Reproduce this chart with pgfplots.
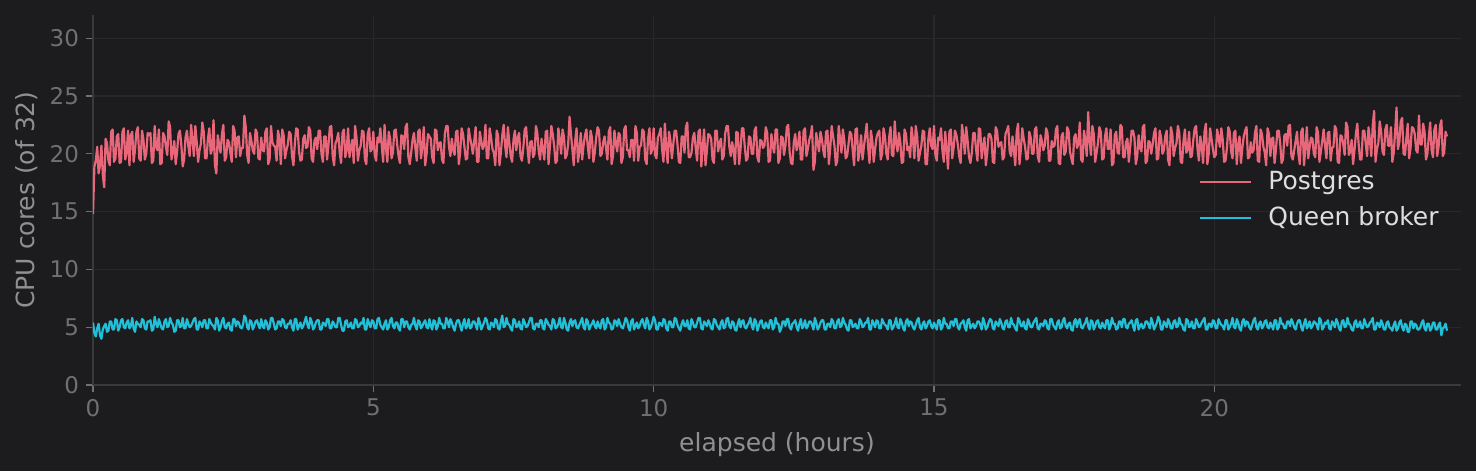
\documentclass[border=0pt]{standalone}
\usepackage{fontspec}
\setmainfont{DejaVu Sans}
\usepackage{pgfplots}
\pgfplotsset{compat=1.18}
\usepackage{pgfplotstable}
\usetikzlibrary{backgrounds}

\definecolor{bg}{HTML}{1C1C1E}
\definecolor{gridc}{HTML}{28282A}
\definecolor{spine}{HTML}{3A3A3C}
\definecolor{tickc}{HTML}{707072}
\definecolor{labc}{HTML}{909092}
\definecolor{legc}{HTML}{DEDEDE}
\definecolor{pgc}{HTML}{E8677A}
\definecolor{qbc}{HTML}{22C0D8}

% t (hours), Postgres cores, Queen broker cores
\pgfplotstableread[row sep=\\]{
t pg qb\\
0.000 14.8 5.4\\ 0.025 18.9 4.5\\ 0.050 19.4 4.2\\ 0.075 20.6 4.9\\ 0.100 18.3 5.3\\ 0.125 19.0 4.3\\ 0.150 20.7 4.0\\ 0.175 18.2 4.8\\ 0.200 17.1 5.1\\ 0.225 21.3 5.3\\ 0.250 20.9 4.6\\ 0.275 19.4 4.7\\ 0.300 19.0 5.5\\ 0.325 21.9 5.5\\ 0.350 22.1 4.8\\ 0.375 19.3 4.8\\ 0.400 19.6 5.7\\ 0.425 21.5 5.6\\ 0.450 21.7 4.7\\ 0.475 19.2 5.0\\ 0.500 19.3 5.6\\ 0.525 21.9 5.7\\ 0.550 22.2 5.0\\ 0.575 19.5 4.9\\ 0.600 20.1 5.4\\ 0.625 22.0 5.6\\ 0.650 19.0 4.9\\ 0.675 21.6 5.1\\ 0.700 21.9 5.8\\ 0.725 19.3 4.9\\ 0.750 20.4 4.6\\ 0.775 21.9 5.5\\ 0.800 22.3 5.3\\ 0.825 19.6 5.2\\ 0.850 19.4 5.0\\ 0.875 22.0 5.7\\ 0.900 21.2 5.6\\ 0.925 19.5 4.9\\ 0.950 20.0 4.8\\ 0.975 21.8 5.5\\
1.000 21.6 5.5\\ 1.025 21.8 5.6\\ 1.050 19.2 4.7\\ 1.075 19.4 4.8\\ 1.100 22.4 5.9\\ 1.125 20.6 5.3\\ 1.150 20.3 5.0\\ 1.175 22.1 5.7\\ 1.200 19.1 5.3\\ 1.225 19.2 4.9\\ 1.250 21.8 4.8\\ 1.275 21.5 5.5\\ 1.300 20.6 5.7\\ 1.325 19.9 5.0\\ 1.350 22.8 5.1\\ 1.375 22.3 5.8\\ 1.400 19.5 5.4\\ 1.425 20.2 5.2\\ 1.450 21.1 4.6\\ 1.475 19.1 4.7\\ 1.500 20.2 5.6\\ 1.525 21.7 5.6\\ 1.550 22.0 5.0\\ 1.575 20.8 5.1\\ 1.600 18.9 5.8\\ 1.625 19.5 4.9\\ 1.650 21.4 4.9\\ 1.675 22.0 5.7\\ 1.700 20.7 5.3\\ 1.725 19.8 5.0\\ 1.750 22.5 5.1\\ 1.775 21.2 5.4\\ 1.800 19.8 5.7\\ 1.825 22.4 5.8\\ 1.850 21.0 4.8\\ 1.875 19.3 4.8\\ 1.900 20.3 5.5\\ 1.925 20.9 5.3\\ 1.950 22.7 5.0\\ 1.975 21.9 5.6\\
2.000 19.6 5.6\\ 2.025 19.6 4.9\\ 2.050 21.3 4.9\\ 2.075 22.2 5.7\\ 2.100 20.0 5.4\\ 2.125 20.4 5.2\\ 2.150 22.9 5.1\\ 2.175 19.0 4.8\\ 2.200 18.3 5.8\\ 2.225 21.6 5.6\\ 2.250 20.8 4.7\\ 2.275 20.1 5.0\\ 2.300 21.7 5.5\\ 2.325 22.5 5.8\\ 2.350 19.4 5.0\\ 2.375 19.7 4.9\\ 2.400 21.2 5.3\\ 2.425 21.0 5.4\\ 2.450 20.1 4.8\\ 2.475 19.3 4.7\\ 2.500 22.4 5.7\\ 2.525 22.0 5.7\\ 2.550 19.7 5.1\\ 2.575 21.4 5.5\\ 2.600 21.5 5.4\\ 2.625 19.8 5.0\\ 2.650 20.5 4.9\\ 2.675 20.5 5.2\\ 2.700 23.3 6.0\\ 2.725 22.3 5.8\\ 2.750 19.9 5.0\\ 2.775 19.2 4.8\\ 2.800 21.8 5.6\\ 2.825 21.1 5.5\\ 2.850 20.3 4.8\\ 2.875 20.0 5.1\\ 2.900 22.1 5.5\\ 2.925 21.8 5.6\\ 2.950 19.6 5.2\\ 2.975 19.5 4.9\\
3.000 21.4 5.7\\ 3.025 20.3 5.1\\ 3.050 20.2 4.9\\ 3.075 21.9 5.6\\ 3.100 22.2 5.4\\ 3.125 19.1 4.8\\ 3.150 19.5 5.0\\ 3.175 22.4 5.8\\ 3.200 21.0 5.8\\ 3.225 20.7 5.3\\ 3.250 20.6 4.8\\ 3.275 19.4 4.9\\ 3.300 22.0 5.5\\ 3.325 21.3 5.5\\ 3.350 19.1 5.1\\ 3.375 22.1 5.7\\ 3.400 21.6 5.6\\ 3.425 19.6 5.0\\ 3.450 20.3 4.9\\ 3.475 20.8 5.3\\ 3.500 21.9 5.3\\ 3.525 21.7 5.6\\ 3.550 19.8 5.0\\ 3.575 19.0 4.7\\ 3.600 20.9 5.7\\ 3.625 22.2 5.7\\ 3.650 22.1 4.8\\ 3.675 20.2 5.1\\ 3.700 19.4 5.4\\ 3.725 19.5 4.9\\ 3.750 21.3 5.1\\ 3.775 21.6 5.5\\ 3.800 20.5 5.9\\ 3.825 20.6 5.2\\ 3.850 22.3 4.9\\ 3.875 22.0 5.8\\ 3.900 19.6 5.5\\ 3.925 19.3 4.8\\ 3.950 21.1 5.0\\ 3.975 21.4 5.4\\
4.000 20.4 5.6\\ 4.025 22.0 5.6\\ 4.050 22.0 4.8\\ 4.075 20.0 4.8\\ 4.100 19.3 5.4\\ 4.125 21.5 5.3\\ 4.150 21.5 5.1\\ 4.175 19.5 5.7\\ 4.200 20.8 5.7\\ 4.225 22.3 4.9\\ 4.250 22.4 4.9\\ 4.275 19.8 5.5\\ 4.300 19.0 5.3\\ 4.325 20.9 5.0\\ 4.350 21.2 5.0\\ 4.375 21.8 5.8\\ 4.400 20.1 5.8\\ 4.425 19.2 5.2\\ 4.450 21.8 4.7\\ 4.475 22.1 4.7\\ 4.500 19.7 5.5\\ 4.525 20.3 5.6\\ 4.550 22.2 5.0\\ 4.575 19.7 5.1\\ 4.600 20.6 5.4\\ 4.625 21.2 4.9\\ 4.650 19.2 4.9\\ 4.675 22.4 5.7\\ 4.700 21.4 5.6\\ 4.725 19.4 5.0\\ 4.750 20.3 5.1\\ 4.775 20.7 5.4\\ 4.800 22.0 5.3\\ 4.825 21.9 5.8\\ 4.850 19.5 4.8\\ 4.875 19.1 4.8\\ 4.900 21.7 5.7\\ 4.925 22.2 5.3\\ 4.950 20.2 5.0\\ 4.975 20.4 5.6\\
5.000 21.9 5.5\\ 5.025 19.9 4.9\\ 5.050 19.4 4.9\\ 5.075 21.4 5.7\\ 5.100 21.0 5.8\\ 5.125 22.2 5.2\\ 5.150 20.7 5.0\\ 5.175 19.3 4.8\\ 5.200 22.5 5.3\\ 5.225 20.5 5.6\\ 5.250 19.3 4.8\\ 5.275 21.9 5.0\\ 5.300 21.3 5.6\\ 5.325 19.6 5.8\\ 5.350 20.1 5.1\\ 5.375 22.0 4.9\\ 5.400 22.1 5.4\\ 5.425 20.8 5.4\\ 5.450 19.8 4.9\\ 5.475 19.2 4.7\\ 5.500 21.6 5.7\\ 5.525 21.5 5.7\\ 5.550 20.4 5.0\\ 5.575 22.3 5.5\\ 5.600 22.6 5.5\\ 5.625 19.7 5.0\\ 5.650 19.1 4.8\\ 5.675 20.1 5.2\\ 5.700 21.2 5.3\\ 5.725 21.8 5.8\\ 5.750 20.5 5.1\\ 5.775 19.4 4.8\\ 5.800 21.9 5.6\\ 5.825 22.1 5.5\\ 5.850 19.6 4.9\\ 5.875 20.6 5.1\\ 5.900 22.3 5.4\\ 5.925 19.0 5.6\\ 5.950 20.0 5.0\\ 5.975 21.7 4.9\\
6.000 21.5 5.7\\ 6.025 21.3 5.1\\ 6.050 19.7 4.8\\ 6.075 19.2 5.6\\ 6.100 22.1 5.5\\ 6.125 22.0 4.8\\ 6.150 20.3 5.1\\ 6.175 20.9 5.8\\ 6.200 21.0 5.3\\ 6.225 19.5 5.3\\ 6.250 19.2 4.9\\ 6.275 21.7 4.9\\ 6.300 22.4 5.8\\ 6.325 22.4 5.5\\ 6.350 20.6 5.0\\ 6.375 19.8 5.7\\ 6.400 21.3 5.4\\ 6.425 20.3 5.0\\ 6.450 19.9 4.7\\ 6.475 21.9 5.3\\ 6.500 22.0 5.6\\ 6.525 19.1 5.6\\ 6.550 20.2 5.1\\ 6.575 22.2 4.7\\ 6.600 21.7 5.3\\ 6.625 20.6 5.7\\ 6.650 19.5 4.9\\ 6.675 19.6 5.1\\ 6.700 22.2 5.7\\ 6.725 21.4 4.9\\ 6.750 20.8 5.0\\ 6.775 20.0 5.5\\ 6.800 21.1 5.5\\ 6.825 22.3 5.2\\ 6.850 19.3 4.8\\ 6.875 19.3 5.8\\ 6.900 21.9 5.4\\ 6.925 21.1 4.8\\ 6.950 20.4 5.1\\ 6.975 20.7 5.4\\
7.000 22.5 5.8\\ 7.025 19.6 5.6\\ 7.050 19.6 4.9\\ 7.075 22.2 4.8\\ 7.100 21.4 5.4\\ 7.125 20.4 5.3\\ 7.150 20.1 5.0\\ 7.175 19.0 5.7\\ 7.200 22.0 5.6\\ 7.225 21.6 4.9\\ 7.250 19.0 4.8\\ 7.275 20.1 5.5\\ 7.300 21.6 6.0\\ 7.325 22.5 5.0\\ 7.350 20.7 5.1\\ 7.375 19.7 5.8\\ 7.400 22.3 5.3\\ 7.425 21.0 5.2\\ 7.450 19.8 4.9\\ 7.475 19.3 4.7\\ 7.500 21.2 5.7\\ 7.525 22.0 5.6\\ 7.550 20.3 5.0\\ 7.575 21.4 5.1\\ 7.600 21.8 5.5\\ 7.625 19.8 4.9\\ 7.650 19.4 4.8\\ 7.675 20.5 5.7\\ 7.700 22.1 5.4\\ 7.725 22.3 5.0\\ 7.750 20.5 5.1\\ 7.775 19.2 5.4\\ 7.800 21.0 5.8\\ 7.825 21.1 5.8\\ 7.850 19.7 4.9\\ 7.875 20.0 4.8\\ 7.900 22.4 5.3\\ 7.925 21.8 5.3\\ 7.950 20.2 5.0\\ 7.975 19.5 5.6\\
8.000 21.3 5.6\\ 8.025 20.3 4.9\\ 8.050 19.5 4.8\\ 8.075 21.9 5.7\\ 8.100 22.0 5.5\\ 8.125 19.1 5.2\\ 8.150 20.6 5.1\\ 8.175 22.4 4.8\\ 8.200 21.7 5.7\\ 8.225 20.7 5.6\\ 8.250 19.2 4.9\\ 8.275 19.4 5.0\\ 8.300 22.2 5.3\\ 8.325 21.3 5.8\\ 8.350 20.0 5.0\\ 8.375 22.1 4.9\\ 8.400 21.5 5.8\\ 8.425 19.6 5.4\\ 8.450 19.9 4.8\\ 8.475 20.8 4.7\\ 8.500 23.2 5.4\\ 8.525 21.7 5.7\\ 8.550 20.4 5.1\\ 8.575 19.0 5.5\\ 8.600 21.1 5.6\\ 8.625 22.2 5.0\\ 8.650 19.3 4.9\\ 8.675 20.2 5.2\\ 8.700 21.8 5.5\\ 8.725 19.5 5.8\\ 8.750 20.7 5.0\\ 8.775 21.6 4.8\\ 8.800 22.1 5.7\\ 8.825 20.6 5.5\\ 8.850 19.6 4.8\\ 8.875 22.0 5.1\\ 8.900 21.4 5.3\\ 8.925 19.3 5.6\\ 8.950 20.1 5.1\\ 8.975 21.4 4.9\\
9.000 22.3 5.5\\ 9.025 22.0 5.1\\ 9.050 19.8 4.9\\ 9.075 20.0 5.6\\ 9.100 21.0 5.7\\ 9.125 21.5 4.8\\ 9.150 20.5 5.0\\ 9.175 19.5 5.8\\ 9.200 21.9 5.4\\ 9.225 22.3 5.3\\ 9.250 19.1 4.8\\ 9.275 19.8 4.9\\ 9.300 22.0 5.6\\ 9.325 20.9 5.5\\ 9.350 20.2 5.1\\ 9.375 21.8 5.7\\ 9.400 21.6 5.3\\ 9.425 19.2 5.0\\ 9.450 19.7 4.9\\ 9.475 22.1 5.3\\ 9.500 22.4 5.8\\ 9.525 20.3 5.6\\ 9.550 20.3 5.0\\ 9.575 19.7 4.7\\ 9.600 21.2 5.5\\ 9.625 21.2 5.7\\ 9.650 19.4 4.8\\ 9.675 22.4 5.1\\ 9.700 21.8 5.4\\ 9.725 19.4 4.9\\ 9.750 20.6 5.1\\ 9.775 20.7 5.5\\ 9.800 22.1 5.7\\ 9.825 21.9 5.2\\ 9.850 19.5 4.9\\ 9.875 19.1 5.8\\ 9.900 21.3 5.5\\ 9.925 22.2 4.8\\ 9.950 20.0 5.0\\ 9.975 20.4 5.4\\
10.000 22.2 5.9\\ 10.025 19.9 5.6\\ 10.050 19.6 4.8\\ 10.075 21.4 4.8\\ 10.100 21.7 5.4\\ 10.125 22.2 5.3\\ 10.150 20.4 5.1\\ 10.175 19.3 5.7\\ 10.200 22.6 5.6\\ 10.225 20.5 4.9\\ 10.250 19.2 4.7\\ 10.275 21.9 5.5\\ 10.300 21.1 5.5\\ 10.325 19.6 5.0\\ 10.350 20.8 5.0\\ 10.375 22.0 5.8\\ 10.400 22.0 5.7\\ 10.425 20.8 5.2\\ 10.450 19.3 4.9\\ 10.475 19.2 4.7\\ 10.500 21.5 5.3\\ 10.525 21.5 5.6\\ 10.550 20.1 5.1\\ 10.575 22.3 5.1\\ 10.600 22.7 5.6\\ 10.625 19.7 4.9\\ 10.650 19.7 4.8\\ 10.675 20.1 5.7\\ 10.700 21.4 5.4\\ 10.725 21.8 5.0\\ 10.750 20.5 5.0\\ 10.775 19.4 5.4\\ 10.800 21.9 5.8\\ 10.825 22.1 5.8\\ 10.850 18.9 4.9\\ 10.875 20.6 4.8\\ 10.900 22.1 5.5\\ 10.925 19.0 5.3\\ 10.950 20.3 5.1\\ 10.975 21.7 5.6\\
11.000 21.6 5.3\\ 11.025 21.3 4.9\\ 11.050 19.5 4.8\\ 11.075 19.2 5.7\\ 11.100 22.0 5.6\\ 11.125 22.0 5.2\\ 11.150 20.2 5.0\\ 11.175 20.9 4.8\\ 11.200 21.3 5.4\\ 11.225 19.5 5.6\\ 11.250 19.8 4.9\\ 11.275 21.7 5.0\\ 11.300 22.4 5.7\\ 11.325 22.4 5.8\\ 11.350 20.6 5.1\\ 11.375 19.8 4.9\\ 11.400 21.0 5.5\\ 11.425 20.3 5.4\\ 11.450 19.1 4.8\\ 11.475 21.9 4.7\\ 11.500 21.8 5.3\\ 11.525 19.1 5.7\\ 11.550 20.4 5.0\\ 11.575 22.2 5.5\\ 11.600 22.2 5.6\\ 11.625 20.6 5.0\\ 11.650 19.4 4.9\\ 11.675 19.6 5.2\\ 11.700 21.5 5.4\\ 11.725 21.4 5.8\\ 11.750 20.0 5.1\\ 11.775 20.0 4.8\\ 11.800 22.0 5.7\\ 11.825 22.3 5.5\\ 11.850 19.7 4.7\\ 11.875 19.3 5.1\\ 11.900 21.2 5.5\\ 11.925 21.1 5.6\\ 11.950 20.5 5.0\\ 11.975 20.7 4.9\\
12.000 22.3 5.4\\ 12.025 21.8 5.1\\ 12.050 19.3 4.9\\ 12.075 19.4 5.6\\ 12.100 21.7 5.6\\ 12.125 20.6 4.8\\ 12.150 20.1 5.0\\ 12.175 22.1 5.8\\ 12.200 22.1 5.3\\ 12.225 19.2 5.3\\ 12.250 19.6 4.6\\ 12.275 21.5 4.9\\ 12.300 21.4 5.5\\ 12.325 19.9 5.5\\ 12.350 20.7 5.1\\ 12.375 22.3 5.7\\ 12.400 22.5 5.7\\ 12.425 20.2 5.0\\ 12.450 19.2 4.8\\ 12.475 19.1 5.3\\ 12.500 21.0 5.4\\ 12.525 21.7 5.6\\ 12.550 20.3 5.0\\ 12.575 20.8 4.7\\ 12.600 21.9 5.3\\ 12.625 19.5 5.7\\ 12.650 19.5 4.9\\ 12.675 22.0 5.1\\ 12.700 22.2 5.6\\ 12.725 19.8 4.9\\ 12.750 20.4 5.1\\ 12.775 21.2 5.5\\ 12.800 21.6 5.5\\ 12.825 22.4 5.2\\ 12.850 18.6 4.8\\ 12.875 19.3 5.8\\ 12.900 21.8 5.4\\ 12.925 20.9 4.8\\ 12.950 20.2 5.0\\ 12.975 21.9 5.4\\
13.000 21.3 5.6\\ 13.025 20.3 5.6\\ 13.050 19.7 4.8\\ 13.075 21.9 4.8\\ 13.100 22.0 5.3\\ 13.125 19.1 5.3\\ 13.150 20.5 5.0\\ 13.175 22.4 5.7\\ 13.200 21.5 5.5\\ 13.225 20.7 4.9\\ 13.250 19.0 4.9\\ 13.275 19.4 5.5\\ 13.300 22.4 5.7\\ 13.325 21.3 5.0\\ 13.350 20.1 5.1\\ 13.375 22.1 5.8\\ 13.400 21.2 5.4\\ 13.425 19.6 5.2\\ 13.450 19.8 4.8\\ 13.475 20.8 4.7\\ 13.500 21.9 5.6\\ 13.525 21.7 5.6\\ 13.550 20.3 5.0\\ 13.575 19.0 5.1\\ 13.600 22.1 5.3\\ 13.625 22.2 4.9\\ 13.650 19.4 4.9\\ 13.675 20.2 5.7\\ 13.700 21.6 5.5\\ 13.725 19.5 5.0\\ 13.750 20.6 5.1\\ 13.775 21.6 5.4\\ 13.800 22.6 5.4\\ 13.825 20.6 5.8\\ 13.850 19.2 4.8\\ 13.875 22.0 4.8\\ 13.900 21.1 5.6\\ 13.925 19.3 5.3\\ 13.950 20.4 5.0\\ 13.975 21.4 5.6\\
14.000 21.8 5.5\\ 14.025 22.0 4.9\\ 14.050 19.5 4.9\\ 14.075 20.0 5.7\\ 14.100 22.2 5.4\\ 14.125 21.5 5.2\\ 14.150 20.0 5.1\\ 14.175 19.5 4.8\\ 14.200 21.4 5.6\\ 14.225 22.3 5.6\\ 14.250 19.9 4.8\\ 14.275 19.8 5.0\\ 14.300 22.8 5.3\\ 14.325 20.9 5.8\\ 14.350 20.2 5.0\\ 14.375 21.8 4.9\\ 14.400 21.0 5.7\\ 14.425 19.2 5.4\\ 14.450 19.3 4.9\\ 14.475 22.1 4.7\\ 14.500 21.7 5.5\\ 14.525 20.3 5.7\\ 14.550 20.6 5.1\\ 14.575 19.7 5.5\\ 14.600 22.3 5.4\\ 14.625 21.2 5.0\\ 14.650 19.6 4.8\\ 14.675 22.4 5.2\\ 14.700 21.5 5.6\\ 14.725 19.4 5.8\\ 14.750 20.1 5.0\\ 14.775 20.7 4.8\\ 14.800 22.0 5.3\\ 14.825 21.9 5.5\\ 14.850 19.1 4.9\\ 14.875 19.1 5.1\\ 14.900 21.3 5.5\\ 14.925 22.2 5.6\\ 14.950 20.7 5.1\\ 14.975 20.4 4.9\\
15.000 22.4 5.4\\ 15.025 19.9 5.1\\ 15.050 19.4 4.8\\ 15.075 21.4 5.6\\ 15.100 21.2 5.6\\ 15.125 22.2 4.8\\ 15.150 20.3 5.0\\ 15.175 19.3 5.8\\ 15.200 21.9 5.3\\ 15.225 20.5 5.3\\ 15.250 18.7 4.9\\ 15.275 21.9 4.9\\ 15.300 22.1 5.5\\ 15.325 19.6 5.5\\ 15.350 20.5 5.1\\ 15.375 22.0 5.7\\ 15.400 21.6 5.7\\ 15.425 20.8 5.0\\ 15.450 19.8 4.8\\ 15.475 19.2 5.3\\ 15.500 22.5 5.4\\ 15.525 21.5 5.6\\ 15.550 20.0 5.0\\ 15.575 22.3 4.7\\ 15.600 21.1 5.6\\ 15.625 19.7 5.7\\ 15.650 19.2 4.9\\ 15.675 20.1 5.1\\ 15.700 21.8 5.3\\ 15.725 21.8 4.9\\ 15.750 20.4 5.1\\ 15.775 19.4 5.5\\ 15.800 22.2 5.5\\ 15.825 22.1 5.2\\ 15.850 19.6 4.8\\ 15.875 20.6 5.8\\ 15.900 21.4 5.4\\ 15.925 19.0 4.8\\ 15.950 20.1 5.0\\ 15.975 21.7 5.4\\
16.000 21.7 5.7\\ 16.025 21.3 5.6\\ 16.050 19.3 4.9\\ 16.075 19.2 4.8\\ 16.100 22.3 5.5\\ 16.125 22.0 5.3\\ 16.150 20.6 5.1\\ 16.175 20.9 5.7\\ 16.200 21.0 5.4\\ 16.225 19.5 4.9\\ 16.250 19.7 4.8\\ 16.275 21.7 5.5\\ 16.300 22.0 5.6\\ 16.325 22.4 5.0\\ 16.350 20.2 5.0\\ 16.375 19.8 5.8\\ 16.400 21.5 5.3\\ 16.425 20.3 5.2\\ 16.450 19.0 4.9\\ 16.475 21.9 4.7\\ 16.500 22.6 5.8\\ 16.525 19.1 5.6\\ 16.550 20.4 5.1\\ 16.575 22.2 5.1\\ 16.600 21.3 5.5\\ 16.625 20.6 4.9\\ 16.650 19.5 4.8\\ 16.675 19.6 5.7\\ 16.700 21.9 5.4\\ 16.725 21.4 5.0\\ 16.750 20.0 5.0\\ 16.775 20.0 5.4\\ 16.800 22.1 5.6\\ 16.825 22.3 5.8\\ 16.850 19.8 4.9\\ 16.875 19.3 4.8\\ 16.900 21.6 5.3\\ 16.925 21.1 5.3\\ 16.950 20.3 5.1\\ 16.975 20.7 5.6\\
17.000 22.2 5.5\\ 17.025 21.8 4.9\\ 17.050 19.4 4.8\\ 17.075 19.4 5.7\\ 17.100 21.1 5.7\\ 17.125 20.6 5.2\\ 17.150 20.7 5.0\\ 17.175 22.1 4.8\\ 17.200 22.4 5.4\\ 17.225 19.2 5.6\\ 17.250 19.1 4.9\\ 17.275 21.5 5.0\\ 17.300 21.8 5.6\\ 17.325 19.9 5.8\\ 17.350 20.2 5.1\\ 17.375 22.3 4.9\\ 17.400 22.0 5.3\\ 17.425 20.2 5.4\\ 17.450 19.6 4.8\\ 17.475 19.1 4.7\\ 17.500 21.4 5.5\\ 17.525 21.7 5.7\\ 17.550 20.5 5.0\\ 17.575 20.8 5.5\\ 17.600 22.7 5.7\\ 17.625 19.5 5.0\\ 17.650 19.3 4.9\\ 17.675 22.0 5.2\\ 17.700 21.2 5.4\\ 17.725 19.8 5.8\\ 17.750 23.6 5.1\\ 17.775 21.2 4.8\\ 17.800 19.9 5.6\\ 17.825 22.4 5.5\\ 17.850 21.7 4.8\\ 17.875 19.3 5.1\\ 17.900 20.1 5.5\\ 17.925 20.9 5.6\\ 17.950 22.3 5.0\\ 17.975 21.9 4.9\\
18.000 19.5 5.4\\ 18.025 19.6 5.1\\ 18.050 21.5 4.9\\ 18.075 22.2 5.6\\ 18.100 20.4 5.6\\ 18.125 20.4 4.8\\ 18.150 22.1 5.1\\ 18.175 19.0 5.8\\ 18.200 19.2 5.3\\ 18.225 21.6 5.3\\ 18.250 21.9 4.8\\ 18.275 20.1 4.9\\ 18.300 20.0 5.5\\ 18.325 22.5 5.5\\ 18.350 22.3 5.0\\ 18.375 19.7 5.7\\ 18.400 19.7 5.7\\ 18.425 21.0 5.0\\ 18.450 21.3 4.9\\ 18.475 19.3 5.3\\ 18.500 20.6 5.4\\ 18.525 22.0 5.6\\ 18.550 22.0 5.1\\ 18.575 21.4 4.7\\ 18.600 19.1 5.6\\ 18.625 19.8 5.7\\ 18.650 21.6 4.8\\ 18.675 20.5 5.1\\ 18.700 20.2 5.3\\ 18.725 22.3 4.9\\ 18.750 22.5 5.0\\ 18.775 19.2 5.5\\ 18.800 19.4 5.5\\ 18.825 21.1 5.2\\ 18.850 21.0 4.9\\ 18.875 20.0 5.8\\ 18.900 20.8 5.4\\ 18.925 21.8 4.8\\ 18.950 22.2 5.1\\ 18.975 19.5 5.4\\
19.000 19.6 5.9\\ 19.025 22.0 5.6\\ 19.050 21.4 4.8\\ 19.075 20.0 4.8\\ 19.100 20.3 5.5\\ 19.125 21.5 5.3\\ 19.150 22.0 5.0\\ 19.175 19.5 5.7\\ 19.200 19.0 5.4\\ 19.225 22.3 4.9\\ 19.250 21.7 4.9\\ 19.275 19.8 5.5\\ 19.300 20.5 5.6\\ 19.325 20.9 5.0\\ 19.350 22.4 5.1\\ 19.375 21.8 5.8\\ 19.400 19.3 5.3\\ 19.425 19.2 5.2\\ 19.450 21.1 4.8\\ 19.475 22.1 4.7\\ 19.500 20.1 5.7\\ 19.525 20.3 5.6\\ 19.550 21.9 5.0\\ 19.575 19.7 5.1\\ 19.600 19.8 5.5\\ 19.625 21.2 4.9\\ 19.650 22.2 4.9\\ 19.675 22.4 5.7\\ 19.700 20.4 5.4\\ 19.725 19.4 5.0\\ 19.750 21.5 5.1\\ 19.775 20.7 5.4\\ 19.800 19.2 5.6\\ 19.825 21.9 5.8\\ 19.850 22.6 4.8\\ 19.875 19.1 4.8\\ 19.900 20.0 5.3\\ 19.925 22.2 5.3\\ 19.950 21.3 5.0\\ 19.975 20.4 5.6\\
20.000 19.7 5.5\\ 20.025 19.9 4.9\\ 20.050 22.1 4.9\\ 20.075 21.4 5.7\\ 20.100 20.6 5.4\\ 20.125 22.2 5.2\\ 20.150 21.2 5.1\\ 20.175 19.3 4.8\\ 20.200 19.4 5.6\\ 20.225 20.5 5.6\\ 20.250 22.3 4.8\\ 20.275 21.9 5.0\\ 20.300 20.2 5.3\\ 20.325 19.6 5.8\\ 20.350 21.8 5.0\\ 20.375 22.0 4.9\\ 20.400 19.1 5.7\\ 20.425 20.8 5.4\\ 20.450 21.5 4.9\\ 20.475 19.2 4.7\\ 20.500 20.5 5.5\\ 20.525 21.5 5.7\\ 20.550 22.0 5.1\\ 20.575 22.3 5.5\\ 20.600 19.6 5.4\\ 20.625 19.7 5.0\\ 20.650 21.0 4.8\\ 20.675 20.1 5.2\\ 20.700 20.3 5.6\\ 20.725 21.8 5.8\\ 20.750 22.4 5.0\\ 20.775 19.4 4.8\\ 20.800 19.3 5.3\\ 20.825 22.1 5.5\\ 20.850 21.7 4.9\\ 20.875 20.6 5.1\\ 20.900 20.1 5.5\\ 20.925 19.0 5.6\\ 20.950 22.2 5.0\\ 20.975 21.7 4.9\\
21.000 19.8 5.4\\ 21.025 21.3 5.1\\ 21.050 21.4 4.8\\ 21.075 19.2 5.6\\ 21.100 20.4 5.6\\ 21.125 22.0 4.8\\ 21.150 22.0 5.0\\ 21.175 20.9 5.8\\ 21.200 19.2 5.3\\ 21.225 19.5 5.3\\ 21.250 21.6 4.9\\ 21.275 21.7 4.9\\ 21.300 20.7 5.5\\ 21.325 22.4 5.5\\ 21.350 22.5 5.1\\ 21.375 19.8 5.7\\ 21.400 19.5 5.4\\ 21.425 20.3 5.0\\ 21.450 21.1 4.8\\ 21.475 21.9 5.3\\ 21.500 20.0 5.6\\ 21.525 19.1 5.6\\ 21.550 21.9 5.0\\ 21.575 22.2 4.7\\ 21.600 19.0 5.3\\ 21.625 20.6 5.7\\ 21.650 22.3 4.9\\ 21.675 19.6 5.1\\ 21.700 20.6 5.5\\ 21.725 21.4 4.9\\ 21.750 21.3 5.1\\ 21.775 20.0 5.5\\ 21.800 19.7 5.4\\ 21.825 22.3 5.2\\ 21.850 21.8 4.8\\ 21.875 19.3 5.8\\ 21.900 20.2 5.6\\ 21.925 21.1 4.8\\ 21.950 22.1 5.0\\ 21.975 20.7 5.4\\
22.000 19.6 5.3\\ 22.025 21.8 5.6\\ 22.050 21.9 4.9\\ 22.075 19.4 4.8\\ 22.100 20.5 5.5\\ 22.125 20.6 5.3\\ 22.150 22.4 5.0\\ 22.175 22.1 5.7\\ 22.200 19.3 5.4\\ 22.225 19.2 4.9\\ 22.250 21.6 4.7\\ 22.275 21.5 5.5\\ 22.300 20.8 5.6\\ 22.325 19.9 5.0\\ 22.350 22.7 5.1\\ 22.375 22.3 5.8\\ 22.400 19.9 5.3\\ 22.425 20.2 5.2\\ 22.450 21.2 4.8\\ 22.475 19.1 4.7\\ 22.500 20.3 5.4\\ 22.525 21.7 5.6\\ 22.550 22.6 5.0\\ 22.575 20.8 5.1\\ 22.600 19.5 5.5\\ 22.625 19.5 4.9\\ 22.650 22.0 4.9\\ 22.675 22.0 5.7\\ 22.700 20.9 5.3\\ 22.725 19.8 5.0\\ 22.750 22.3 5.1\\ 22.775 21.2 5.4\\ 22.800 19.8 5.5\\ 22.825 22.4 5.8\\ 22.850 23.7 4.8\\ 22.875 19.3 4.8\\ 22.900 20.4 5.4\\ 22.925 20.9 5.3\\ 22.950 22.8 5.0\\ 22.975 21.9 5.6\\
23.000 20.2 5.3\\ 23.025 19.9 4.8\\ 23.050 22.1 4.8\\ 23.075 22.5 5.4\\ 23.100 20.7 5.5\\ 23.125 20.7 5.0\\ 23.150 22.3 4.9\\ 23.175 19.3 4.7\\ 23.200 20.1 5.2\\ 23.225 21.9 5.5\\ 23.250 24.0 4.7\\ 23.275 20.4 4.9\\ 23.300 21.0 5.4\\ 23.325 22.8 5.6\\ 23.350 23.1 5.0\\ 23.375 20.0 4.7\\ 23.400 19.9 5.3\\ 23.425 21.3 5.2\\ 23.450 22.6 4.6\\ 23.475 19.6 4.6\\ 23.500 20.5 5.5\\ 23.525 22.3 5.5\\ 23.550 22.2 4.9\\ 23.575 21.7 5.3\\ 23.600 20.3 5.2\\ 23.625 20.1 4.8\\ 23.650 23.3 4.8\\ 23.675 20.8 5.0\\ 23.700 20.8 5.4\\ 23.725 22.6 5.6\\ 23.750 21.9 4.9\\ 23.775 19.5 4.7\\ 23.800 20.0 5.3\\ 23.825 21.4 5.3\\ 23.850 22.7 4.7\\ 23.875 20.3 4.9\\ 23.900 19.7 5.4\\ 23.925 22.1 5.4\\ 23.950 22.5 4.8\\ 23.975 19.8 4.8\\
24.000 20.6 5.2\\ 24.025 22.4 5.4\\ 24.050 22.9 4.3\\ 24.075 19.8 4.9\\ 24.100 20.1 5.0\\ 24.125 21.9 5.3\\ 24.150 21.5 4.7\\
}\usage

\begin{document}
\begin{tikzpicture}
\begin{axis}[
    scale only axis,
    width=684pt, height=185pt,
    xmin=0, xmax=24.4,
    ymin=0, ymax=32,
    xtick={0,5,10,15,20},
    ytick={0,5,10,15,20,25,30},
    axis x line*=bottom,
    axis y line*=left,
    axis line style={spine, line width=0.6pt},
    tick align=outside,
    major tick length=3.5pt,
    tick style={tickc, line width=0.6pt},
    grid=major,
    major grid style={gridc, line width=0.6pt},
    ticklabel style={font=\fontsize{11.5}{13}\selectfont, text=tickc},
    /pgf/number format/assume math mode=true,
    xlabel={elapsed (hours)},
    ylabel={CPU cores (of 32)},
    label style={font=\fontsize{12.5}{15}\selectfont, text=labc},
    x label style={at={(axis description cs:0.5,0)}, anchor=center, yshift=-30pt},
    y label style={at={(axis description cs:-0.0482,0.5)}, anchor=center},
    legend style={at={(axis description cs:1,0.5)}, anchor=east, xshift=-6pt,
        draw=none, fill=none, text=legc,
        font=\fontsize{12.5}{15}\selectfont,
        row sep=3pt, cells={anchor=west}},
    legend image code/.code={
        \draw[#1, line width=1pt] (0pt,0pt) -- (25.5pt,0pt);
        \path (31.5pt,0pt);},
]
\addplot[pgc, line width=1.1pt, line join=round, no marks] table[x=t, y=pg]{\usage};
\addlegendentry{Postgres}
\addplot[qbc, line width=1.1pt, line join=round, no marks] table[x=t, y=qb]{\usage};
\addlegendentry{Queen broker}
\end{axis}
\begin{pgfonlayer}{background}
\fill[bg] ([shift={(-46.5pt,-43pt)}]current axis.south west)
    rectangle ([shift={(7.5pt,7.5pt)}]current axis.north east);
\end{pgfonlayer}
\end{tikzpicture}
\end{document}
